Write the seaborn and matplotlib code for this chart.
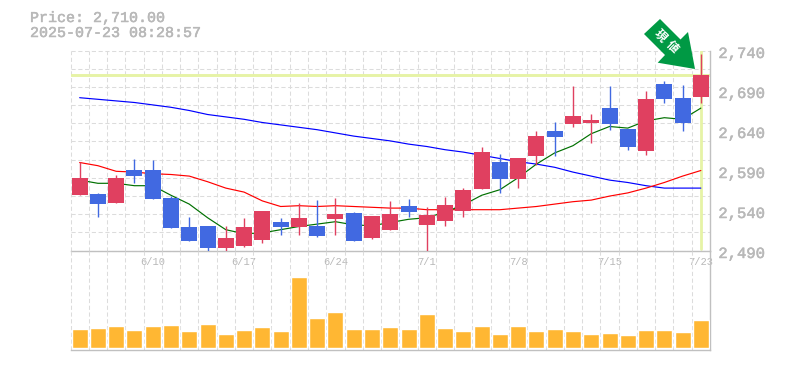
import numpy as np
import pandas as pd
import matplotlib
matplotlib.use('Agg')
import matplotlib.pyplot as plt
import matplotlib.patheffects as pe
from matplotlib.patches import Polygon
from matplotlib.transforms import ScaledTranslation
import seaborn as sns

# 日足データ (読み取り値)
dates = ['6/4', '6/5', '6/6', '6/9', '6/10', '6/11', '6/12', '6/13', '6/16', '6/17',
         '6/18', '6/19', '6/20', '6/23', '6/24', '6/25', '6/26', '6/27', '6/30', '7/1',
         '7/2', '7/3', '7/4', '7/7', '7/8', '7/9', '7/10', '7/11', '7/14', '7/15',
         '7/16', '7/17', '7/18', '7/22', '7/23']
opens = [2559, 2561, 2549, 2591, 2591, 2556, 2519, 2521, 2493, 2496,
         2503, 2526, 2519, 2521, 2529, 2537, 2506, 2516, 2546, 2522,
         2527, 2539, 2567, 2601, 2579, 2608, 2639, 2648, 2649, 2668,
         2642, 2614, 2698, 2681, 2682]
closes = [2581, 2548, 2581, 2583, 2554, 2518, 2502, 2493, 2506, 2519,
          2539, 2519, 2531, 2508, 2536, 2502, 2533, 2536, 2538, 2534,
          2547, 2566, 2613, 2579, 2606, 2633, 2632, 2658, 2653, 2648,
          2619, 2679, 2679, 2649, 2710]
highs = [2601, 2562, 2584, 2604, 2603, 2558, 2532, 2521, 2521, 2531,
         2540, 2531, 2549, 2553, 2556, 2538, 2533, 2552, 2554, 2544,
         2557, 2568, 2619, 2611, 2606, 2639, 2651, 2696, 2661, 2696,
         2642, 2689, 2702, 2697, 2736]
lows = [2559, 2532, 2549, 2574, 2554, 2518, 2502, 2490, 2490, 2494,
        2499, 2509, 2509, 2507, 2509, 2502, 2504, 2516, 2532, 2490,
        2521, 2532, 2567, 2562, 2568, 2597, 2608, 2644, 2624, 2641,
        2616, 2609, 2674, 2639, 2674]
ma_short = [2578, 2574, 2574, 2571, 2571, 2559, 2548, 2531, 2516, 2511,
            2512, 2516, 2520, 2523, 2526, 2522, 2521, 2525, 2529, 2531,
            2538, 2547, 2559, 2566, 2581, 2598, 2612, 2621, 2636, 2645,
            2643, 2652, 2656, 2654, 2668]
ma_mid = [2600, 2596, 2589, 2588, 2586, 2585, 2583, 2576, 2568, 2563,
          2552, 2545, 2546, 2545, 2546, 2545, 2544, 2543, 2543, 2541,
          2541, 2541, 2541, 2541, 2543, 2545, 2548, 2551, 2553, 2558,
          2562, 2568, 2575, 2583, 2590]
ma_long = [2681, 2679, 2677, 2675, 2672, 2669, 2665, 2660, 2657, 2654,
           2650, 2647, 2644, 2641, 2637, 2633, 2630, 2627, 2623, 2620,
           2616, 2613, 2609, 2605, 2601, 2598, 2594, 2588, 2583, 2578,
           2575, 2571, 2568, 2568, 2568]
volumes = [19, 20, 22, 18, 22, 23, 17, 24, 14, 18,
           21, 17, 71, 30, 36, 19, 19, 21, 19, 34,
           20, 17, 22, 14, 22, 17, 19, 17, 14, 15,
           13, 18, 18, 16, 28]
price_ticks = [2490, 2540, 2590, 2640, 2690, 2740]
label_dates = ['6/10', '6/17', '6/24', '7/1', '7/8', '7/15', '7/23']
last_price = 2710
title_lines = ['Price: 2,710.00', '2025-07-23 08:28:57']

sns.set_theme(style='white')
plt.rcParams['font.family'] = ['Liberation Mono', 'Noto Sans CJK JP', 'DejaVu Sans']

UP = '#e04060'
DOWN = '#4169e1'
GREY = '#b8b8b8'
GRID = '#dcdcdc'
HILITE = '#e6f3a6'
DASH = (0, (4, 2.5))
THICK = [pe.withStroke(linewidth=0.35, foreground=GREY)]

df = pd.DataFrame({'date': dates, 'open': opens, 'close': closes, 'high': highs, 'low': lows,
                   'ma_short': ma_short, 'ma_mid': ma_mid, 'ma_long': ma_long, 'volume': volumes})
df['x'] = np.arange(len(df))

fig = plt.figure(figsize=(7.85, 3.7), dpi=100)
W, H = 785, 370
ax = fig.add_axes([70.5 / W, (H - 250.5) / H, 639.5 / W, 200 / H])
ax_vol = fig.add_axes([70.5 / W, (H - 350) / H, 639.5 / W, 99.5 / H])
ax_vol.patch.set_alpha(0)

# ローソク足パネル
ax.set_xlim(-0.5, len(df) - 0.5)
ax.set_ylim(price_ticks[0], price_ticks[-1])
for v in np.linspace(price_ticks[0], price_ticks[-1], 12):
    ax.axhline(v, color=GRID, lw=0.75, ls=DASH, zorder=1, clip_on=False)
for a in (ax, ax_vol):
    for v in df['x'] - 0.5:
        a.axvline(v, color=GRID, lw=0.75, ls=DASH, zorder=1, clip_on=False)
ax.axhline(last_price, color=HILITE, lw=2.1, zorder=1.5)
ax.axvline(df['x'].iloc[-1], ymin=0.01, color=HILITE, lw=2.0, zorder=1.5)

for col, c in [('ma_long', 'blue'), ('ma_mid', 'red'), ('ma_short', '#007000')]:
    sns.lineplot(data=df, x='x', y=col, ax=ax, color=c, lw=0.85, zorder=2, legend=False)

colors = [UP if c >= o else DOWN for o, c in zip(df['open'], df['close'])]
ax.vlines(df['x'], df['low'], df['high'], colors=colors, lw=1.0, zorder=3)
ax.bar(df['x'], (df['close'] - df['open']).abs(), bottom=df[['open', 'close']].min(axis=1),
       width=0.875, color=colors, lw=0, zorder=4)

ax.set_xlim(-0.5, len(df) - 0.5)
ax.set_ylim(price_ticks[0], price_ticks[-1])
ax.set_yticks(price_ticks, [f'{p:,}' for p in price_ticks])
ax.yaxis.tick_right()
ax.set_xticks([dates.index(d) for d in label_dates], label_dates)
ax.tick_params(which='both', length=0)
ax.tick_params(axis='y', labelsize=11.2, labelcolor=GREY, pad=6)
ax.tick_params(axis='x', labelsize=7.5, labelcolor=GREY, pad=4.5)
shift = ScaledTranslation(0, -1.5 / 100, fig.dpi_scale_trans)
for lab in ax.get_yticklabels():
    lab.set_transform(lab.get_transform() + shift)
    lab.set_path_effects(THICK)
ax.set_xlabel('')
ax.set_ylabel('')

# 出来高パネル
sns.barplot(data=df, x='x', y='volume', ax=ax_vol, color='#ffb733', saturation=1,
            width=0.875, zorder=3, order=df['x'])
ax_vol.set_xlim(-0.5, len(df) - 0.5)
ax_vol.set_ylim(-2, 97.5)
ax_vol.set_xticks([])
ax_vol.set_yticks([])
ax_vol.tick_params(which='both', length=0)
ax_vol.set_xlabel('')
ax_vol.set_ylabel('')

for a in (ax, ax_vol):
    a.spines['top'].set_visible(False)
    a.spines['left'].set_visible(False)
    for s in ('right', 'bottom'):
        a.spines[s].set_color('#c0c0c0')
        a.spines[s].set_linewidth(1.0)

# 矢印
arrow_px = [(660, 19), (680.5, 39.5), (688, 32), (695, 69), (657.7, 62.7), (665, 55), (644, 34)]
fig.add_artist(Polygon([(x / W, 1 - y / H) for x, y in arrow_px], closed=True,
                       transform=fig.transFigure, color='#009944', lw=0, zorder=6))
for ch, (x, y) in zip('現値', [(660.7, 36), (672.7, 46.7)]):
    fig.text(x / W, 1 - y / H, ch, color='white', fontsize=8.5, rotation=-45, weight='bold',
             ha='center', va='center', family=['Noto Sans CJK JP', 'DejaVu Sans'], zorder=10)

# 左上の価格表示
fig.text(30 / W, 1 - 18 / H, title_lines[0], color=GREY, fontsize=10.8, va='center', path_effects=THICK)
fig.text(30 / W, 1 - 33 / H, title_lines[1], color=GREY, fontsize=10.8, va='center', path_effects=THICK)

fig.savefig('out.png', dpi=100)
